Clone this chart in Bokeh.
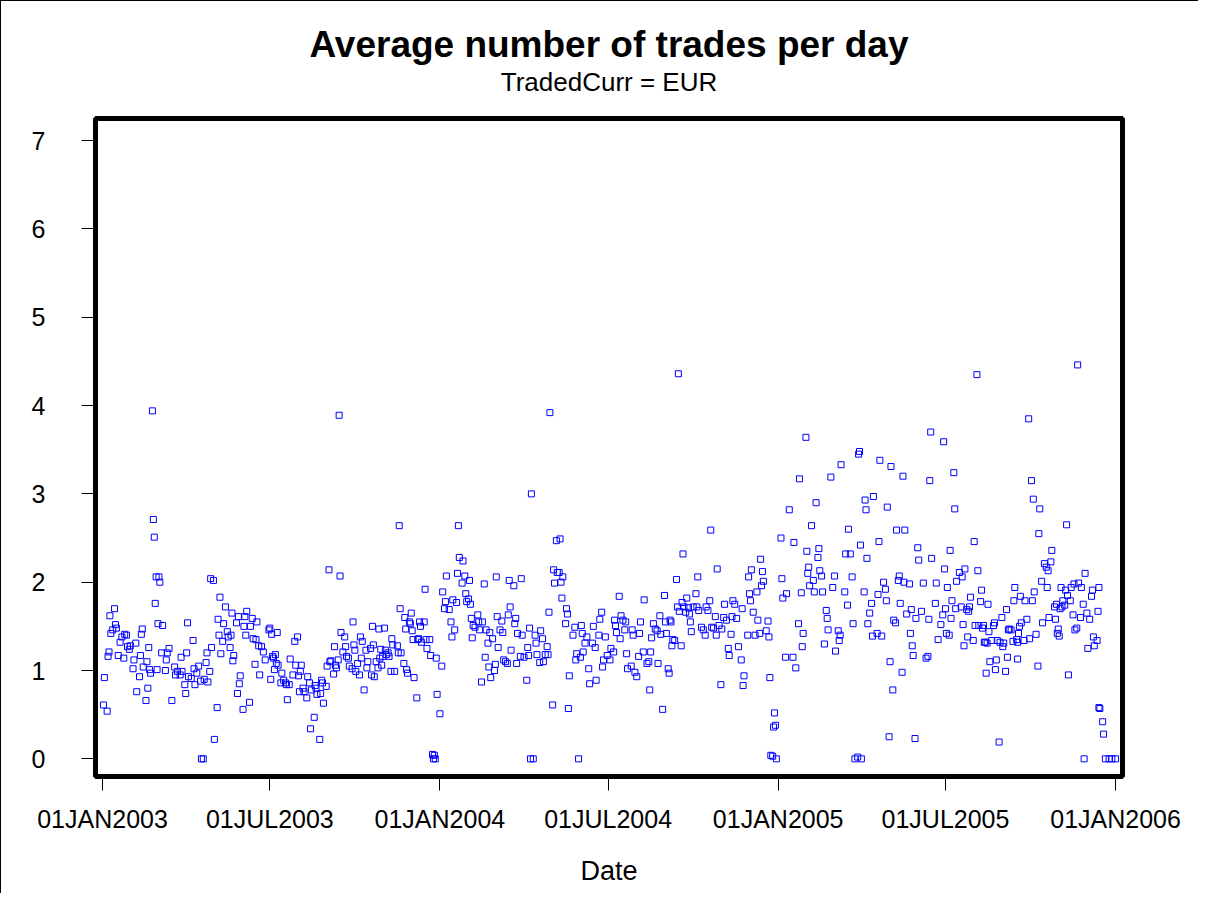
import pandas as pd
from bokeh.plotting import figure
from bokeh.models import Range1d, FixedTicker, Title, ColumnDataSource
from bokeh.embed import file_html
from bokeh.resources import INLINE

# ---- data (day offset from 01JAN2003, average trades per day) ----
day_offset = [
    1, 5, 2, 6, 7, 8, 13, 9, 11, 14, 15, 17, 19, 21, 23, 24, 26, 27, 29, 30, 34, 33, 36, 37, 41, 40, 42, 43, 44, 47,
    48, 49, 50, 51, 52, 54, 55, 56, 57, 58, 61, 62, 59, 60, 65, 64, 68, 70, 72, 69, 75, 78, 79, 81, 84, 85, 86, 89, 90, 91,
    92, 93, 96, 98, 99, 100, 102, 104, 106, 107, 109, 110, 112, 113, 114, 116, 118, 117, 120, 121, 124, 127, 125, 126, 128, 130, 131, 133, 135, 136,
    138, 139, 140, 142, 141, 145, 147, 149, 148, 146, 152, 159, 153, 154, 156, 155, 160, 162, 163, 167, 166, 165, 170, 169, 172, 174, 176, 180,
    181, 183, 189, 184, 185, 187, 188, 190, 186, 182, 194, 193, 196, 198, 199, 200, 202, 203, 206, 208, 211, 209, 212, 214, 215, 213,
    217, 218, 221, 222, 224, 226, 229, 225, 230, 231, 232, 235, 236, 237, 238, 239, 242, 243, 245, 257, 256, 246, 247, 250, 251, 252,
    253, 255, 258, 260, 262, 263, 264, 266, 267, 271, 270, 272, 273, 274, 276, 278, 279, 280, 281, 283, 285, 287, 286, 290, 291, 292,
    293, 294, 296, 298, 299, 300, 301, 302, 303, 305, 306, 307, 309, 310, 312, 313, 314, 316, 319, 320, 321, 322, 323, 326, 327, 328,
    329, 330, 332, 333, 334, 335, 336, 337, 340, 341, 342, 343, 344, 345, 349, 348, 350, 351, 354, 355, 357, 359, 358, 360, 361, 362,
    365, 367, 368, 370, 371, 372, 375, 377, 378, 379, 381, 383, 384, 385, 386, 390, 392, 389, 393, 394, 396, 397, 398, 399, 400, 401,
    403, 406, 407, 408, 410, 411, 413, 414, 415, 417, 419, 418, 420, 422, 424, 426, 425, 427, 428, 430, 432, 433, 434, 436, 438, 439,
    440, 442, 441, 445, 447, 446, 449, 448, 452, 453, 454, 456, 459, 460, 461, 462, 464, 463, 466, 468, 469, 470, 473, 474, 476, 477,
    479, 481, 482, 483, 484, 488, 487, 489, 491, 495, 492, 494, 496, 497, 498, 501, 503, 504, 505, 502, 509, 511, 512, 513, 515, 517,
    518, 520, 519, 522, 524, 526, 527, 530, 531, 533, 534, 537, 538, 540, 541, 542, 544, 546,
    549, 550, 553, 554, 555, 556, 559, 560, 561, 563, 565, 566, 567, 568, 572, 573, 574, 576, 578, 580, 581, 582, 585, 586, 589, 591,
    592, 593, 594, 596, 598, 600, 601, 603, 604, 606, 608, 609, 610, 612, 613, 614, 615, 616, 617, 619, 621, 622, 623, 624, 626, 627,
    628, 629, 631, 632, 634, 635, 636, 637, 639, 642, 643, 644, 645, 648, 650, 652, 653, 655, 657, 658, 659, 661, 663, 664, 665, 667,
    669, 670, 672, 673, 675, 677, 678, 680, 681, 682, 684, 686, 688, 691, 692, 693, 694, 698, 699, 700, 701, 702, 704, 706, 708, 709,
    711, 712, 713, 714, 715, 718, 720, 721, 722, 727, 726, 728, 723, 725, 729,
    734, 735, 736, 740, 739, 743, 748, 747, 750, 754, 753, 756, 757, 758, 761, 762, 763, 764, 765, 767, 769, 770, 772, 775, 774, 776,
    778, 779, 781, 783, 784, 785, 788, 790, 792, 793, 796, 797, 798, 799, 803, 804, 806, 807, 809, 811, 812, 814, 817, 821, 818, 819,
    820, 824, 825, 826, 827, 828, 830, 832, 833, 834, 838, 839, 840, 841, 843, 845, 847, 848, 849, 852, 853, 855, 851, 856, 858, 859,
    861, 862, 863, 865, 866, 867, 868, 870, 873, 874, 875, 876, 877, 879, 880, 882, 883, 886, 888, 891, 893, 894, 895, 896, 897, 901,
    902, 904, 907, 909, 910, 911, 912, 913, 914,
    917, 921, 922, 946, 943, 1002, 1005, 1007, 1014, 1013, 1043, 1027, 1026, 1019, 1021, 1023, 1016, 1022, 924, 927, 930, 933, 947, 951,
    950, 958, 919, 923, 929, 935, 938, 939, 937, 918, 931, 944, 948, 952, 953, 959, 964, 965, 973, 978, 981, 987, 986, 993, 998, 1006,
    1008, 992, 994, 1000, 991, 916, 936, 942, 932, 954, 955, 957, 962, 968, 971, 974, 975, 980, 983, 985, 989, 990, 997, 1003, 1010,
    1017, 1024, 1031, 1034, 1035, 1030, 1032, 1036, 1038, 1041, 1039, 1037, 1042, 1044, 1047, 1048, 1051, 1056, 1059, 1063, 1071, 1070,
    1078, 1061, 1065, 1077, 1050, 1058, 1068, 1054, 1052, 1033, 1072, 1076, 1073, 1066, 1045, 1012, 956, 960, 967, 966, 977, 979, 990,
    970, 1078, 1079, 1082, 1083, 1062, 1085, 1089, 1092, 1096, 1055,
]

avg_trades = [
    0.61, 0.54, 0.92, 1.16, 1.21, 1.62, 1.70, 1.42, 1.46, 1.52, 1.48, 1.17, 1.32, 1.38, 1.14, 1.41, 1.40, 1.27, 1.24, 1.28, 1.12, 1.02, 1.31, 0.76, 1.17, 0.93, 1.41, 1.47, 1.04, 0.66,
    1.10, 0.80, 1.26, 1.01, 0.97, 3.94, 2.71, 2.51, 1.76, 2.06, 2.06, 2.00, 1.01, 1.53, 1.51, 1.20, 1.00, 1.20, 1.25, 1.12, 0.66, 1.04, 0.95, 0.99, 0.95, 1.15, 0.99, 0.84, 0.74, 1.20,
    1.54, 0.93, 0.91, 1.34, 1.02, 0.84, 0.97, 1.05, 0.88, 0.00, 0.00, 0.90, 1.09, 1.20, 0.87, 0.99, 1.26, 2.04, 2.02, 0.22, 0.58, 1.83, 1.58, 1.40, 1.19, 1.33, 1.53, 1.72, 1.44, 1.38,
    1.26, 1.40, 1.65, 1.17, 1.11, 1.54, 1.61, 0.94, 0.85, 0.74, 0.56, 0.64, 1.50, 1.61, 1.67, 1.40, 1.50, 1.59, 1.36, 1.55, 1.35, 1.07, 0.95, 1.28, 1.27, 1.21, 1.12, 1.46,
    1.48, 1.41, 1.43, 1.16, 1.14, 1.18, 1.08, 1.06, 1.01, 0.90, 0.97, 0.86, 0.89, 0.86, 0.84, 0.67, 0.84, 1.13, 0.95, 1.33, 1.38, 1.06, 0.94, 0.99, 1.06, 0.76,
    0.80, 0.76, 0.69, 0.93, 0.86, 0.78, 0.47, 0.34, 0.83, 0.80, 0.73, 0.22, 0.74, 0.89, 0.86, 0.63, 0.82, 1.05, 2.14, 2.07, 3.89, 1.10, 1.11, 0.96, 1.27, 1.06,
    1.03, 1.12, 1.43, 1.21, 1.38, 1.27, 1.16, 1.14, 1.05, 1.55, 1.02, 1.29, 1.23, 0.99, 1.08, 0.95, 1.38, 1.14, 1.33, 0.78, 1.23, 1.10, 1.03, 1.25, 0.95, 1.50,
    1.29, 0.93, 1.10, 1.03, 1.47, 1.14, 1.24, 1.06, 1.16, 1.48, 1.23, 1.18, 1.20, 1.16, 0.99, 1.36, 1.29, 0.99, 1.28, 1.20, 2.64, 1.70, 1.20, 1.08, 1.60, 1.47,
    1.01, 0.97, 1.55, 1.53, 1.65, 1.45, 1.35, 0.92, 0.69, 1.35, 1.36, 1.55, 1.50, 1.32, 1.92, 1.55, 1.35, 1.25, 1.35, 1.17, 0.05, 0.04, 0.00, 0.00, 1.14, 0.73,
    0.51, 1.05, 1.89, 1.70, 1.78, 2.07, 1.69, 1.55, 1.38, 1.80, 1.46, 1.77, 2.10, 2.64, 2.28, 2.24, 2.07, 1.99, 1.87, 1.78, 1.81, 2.02, 1.75, 1.59, 1.37, 1.51,
    1.49, 1.63, 1.55, 1.46, 0.87, 1.55, 1.98, 1.15, 1.46, 1.31, 1.43, 1.04, 0.92, 1.36, 1.00, 2.06, 1.07, 1.61, 1.26, 1.46, 1.56, 1.43, 1.12, 1.10, 1.08, 1.63,
    2.02, 1.23, 1.72, 1.96, 1.59, 1.53, 1.42, 1.08, 1.16, 2.04, 1.40, 1.15, 0.89, 1.26, 1.17, 1.48, 3.00, 0.00, 0.00, 1.40, 1.31, 1.18, 1.09, 1.45, 1.36, 1.10,
    1.18, 1.27, 1.18, 1.66, 3.92, 2.14, 0.61, 1.99, 2.47, 2.49, 2.11, 2.11, 2.00, 1.82, 2.06, 1.53, 1.64, 0.57, 0.94, 1.70, 1.40, 1.49, 1.12, 1.19, 0.00, 1.15,
    1.51, 1.21, 1.42, 1.31, 1.38, 1.02, 0.85, 1.31, 1.50, 1.26, 0.89, 1.40, 1.58, 1.66, 1.04, 1.12, 1.38, 1.17,
    1.12, 1.25, 1.21, 1.57, 1.51, 1.43, 1.84, 1.36, 1.62, 1.57, 1.46, 1.55, 1.19, 1.02, 1.05, 1.46, 1.40, 0.98, 0.93, 1.16, 1.42, 1.55, 1.21, 1.80, 1.08, 1.10,
    0.78, 1.21, 1.37, 1.53, 1.47, 1.45, 1.08, 1.62, 1.41, 0.56, 1.85, 1.55, 1.42, 1.02, 0.97, 1.57, 1.55, 1.28, 1.35, 1.34, 2.03, 1.72, 4.36, 1.67, 1.28, 1.77,
    2.32, 1.72, 1.66, 1.82, 1.71, 1.64, 1.55, 1.44, 1.72, 1.87, 1.72, 2.06, 1.68, 1.49, 1.46, 1.40, 1.72, 1.68, 1.79, 2.59, 1.49, 1.48, 1.61, 1.40, 2.15, 1.51,
    0.84, 1.47, 1.60, 1.75, 1.57, 1.25, 1.17, 1.41, 1.61, 1.79, 1.75, 1.59, 1.27, 1.12, 1.70, 0.83, 0.94, 1.40, 2.06, 1.87, 1.79, 2.14, 1.66, 1.40, 1.89, 1.57,
    1.42, 2.26, 1.96, 2.12, 2.01, 1.45, 1.56, 1.38, 0.92, 0.52, 0.36, 0.38, 0.04, 0.03, 0.00,
    2.50, 2.04, 1.82, 1.87, 1.15, 2.82, 2.45, 1.15, 1.03, 3.17, 1.53, 1.88, 1.27, 1.42, 3.64, 2.35, 2.10, 2.17, 1.96, 2.64, 2.02, 1.89, 2.90, 2.38, 2.28, 2.13,
    2.07, 1.89, 1.30, 1.68, 1.59, 1.46, 3.19, 1.94, 2.07, 1.22, 1.45, 1.34, 1.40, 3.33, 1.89, 2.32, 1.74, 2.60, 2.32, 2.06, 1.53, 0.00, 0.02, 0.00, 3.45, 3.48,
    2.42, 1.89, 2.93, 2.82, 2.27, 1.53, 1.65, 1.76, 1.39, 2.97, 1.42, 1.86, 2.46, 3.38, 1.39, 2.00, 1.92, 1.79, 2.85, 1.10, 3.31, 0.78, 0.25, 1.57, 1.54, 2.59,
    2.02, 2.07, 1.76, 0.98, 3.20, 2.00, 2.59, 1.64, 1.98, 1.42, 1.69, 1.28, 1.17, 0.23, 1.59, 2.39, 2.25, 1.67, 1.99, 1.14, 1.16, 1.58, 3.15, 3.70, 2.27, 1.76,
    1.99, 1.35, 1.52, 1.63, 3.59, 2.15, 1.70, 1.42, 1.94,
    2.36, 3.24, 2.83, 4.35, 2.46, 3.85, 3.15, 2.94, 2.83, 2.55, 2.65, 2.36, 2.23, 2.21, 2.17, 2.13, 2.01, 1.94, 2.01, 2.11, 2.06, 2.15, 2.13, 1.91,
    1.78, 1.75, 1.79, 1.70, 1.72, 1.69, 1.72, 1.83, 1.67, 1.59, 1.52, 1.51, 1.51, 1.48, 1.51, 1.44, 1.51, 1.54, 1.60, 1.69, 1.47, 1.94, 1.79, 1.84, 1.79, 1.79,
    1.89, 1.50, 1.54, 1.58, 1.42, 1.40, 1.38, 1.34, 1.28, 1.32, 1.32, 1.31, 1.34, 1.34, 1.32, 1.27, 1.31, 1.46, 1.46, 1.33, 1.35, 1.32, 1.34, 1.36, 1.41,
    1.54, 1.60, 1.58, 1.47, 1.39, 1.72, 1.75, 1.70, 1.72, 1.74, 1.79, 1.94, 1.91, 1.85, 1.79, 1.94, 1.98, 1.99, 1.94, 2.10, 1.91, 1.84,
    1.94, 1.75, 1.65, 1.67, 1.63, 1.60, 1.58, 1.48, 1.46, 1.42, 1.38, 1.34, 1.28, 1.25, 0.95, 1.05, 0.97, 1.10, 1.12, 1.01, 0.99, 1.15, 1.13,
    0.19, 0.58, 0.57, 0.42, 0.28, 0.00, 0.00, 0.00, 0.00, 0.00, 4.46,
]

tick_dates = ["2003-01-01", "2003-07-01", "2004-01-01", "2004-07-01", "2005-01-01", "2005-07-01", "2006-01-01"]
tick_labels = ["01JAN2003", "01JUL2003", "01JAN2004", "01JUL2004", "01JAN2005", "01JUL2005", "01JAN2006"]
y_ticks = [0, 1, 2, 3, 4, 5, 6, 7]
title_text = "Average number of trades per day"
subtitle_text = "TradedCurr = EUR"

n = min(len(day_offset), len(avg_trades))
base = pd.Timestamp("2003-01-01")
dates = base + pd.to_timedelta(day_offset[:n], unit="D")
source = ColumnDataSource(data=dict(date=dates, value=avg_trades[:n]))


def to_ms(ts):
    return int(pd.Timestamp(ts).value // 10**6)


tick_ms = [to_ms(d) for d in tick_dates]

FONT = "Liberation Sans"

p = figure(
    width=1198, height=893,
    x_axis_type="datetime",
    output_backend="svg", toolbar_location=None,
    min_border_left=94, min_border_right=77, min_border_top=117, min_border_bottom=118,
)
p.x_range = Range1d(start=to_ms(base - pd.Timedelta(days=7.6)), end=to_ms(base + pd.Timedelta(days=1103.5)))
p.y_range = Range1d(start=-0.2, end=7.25)

p.scatter("date", "value", source=source, marker="square", size=6,
          fill_color=None, line_color="#0000FF", line_width=1)

p.outline_line_color = "black"
p.outline_line_width = 5
p.xgrid.visible = False
p.ygrid.visible = False
p.background_fill_color = "white"
p.border_fill_color = "white"

for ax in (p.xaxis[0], p.yaxis[0]):
    ax.axis_line_color = None
    ax.major_tick_in = 0
    ax.major_tick_out = 14
    ax.major_tick_line_color = "black"
    ax.major_tick_line_width = 1
    ax.minor_tick_line_color = None
    ax.major_label_text_font = FONT
    ax.major_label_text_font_size = "25px"
    ax.major_label_text_color = "black"

p.xaxis.ticker = FixedTicker(ticks=tick_ms)
p.xaxis.major_label_overrides = {ms: lab for ms, lab in zip(tick_ms, tick_labels)}
p.xaxis.major_label_standoff = 14
p.xaxis.axis_label = "Date"
p.xaxis.axis_label_text_font = FONT
p.xaxis.axis_label_text_font_size = "27px"
p.xaxis.axis_label_text_font_style = "normal"
p.xaxis.axis_label_text_color = "black"
p.xaxis.axis_label_standoff = 20

p.yaxis.ticker = FixedTicker(ticks=y_ticks)
p.yaxis.major_label_standoff = 36

p.title = None
# "above" panels stack outward from the plot frame: spacer, subtitle, main title
p.add_layout(Title(text=" ", align="center", text_font=FONT, text_color="white",
                   text_font_size="1px", standoff=19), "above")
p.add_layout(Title(text=subtitle_text, align="center", text_font=FONT, text_color="black",
                   text_font_size="26px", text_font_style="normal", standoff=0), "above")
p.add_layout(Title(text=title_text, align="center", text_font=FONT, text_color="black",
                   text_font_size="37px", text_font_style="bold", standoff=0), "above")

p.styles = {"border-left": "1px solid black", "border-top": "1px solid black"}

open("out.html", "w").write(file_html(p, INLINE))
